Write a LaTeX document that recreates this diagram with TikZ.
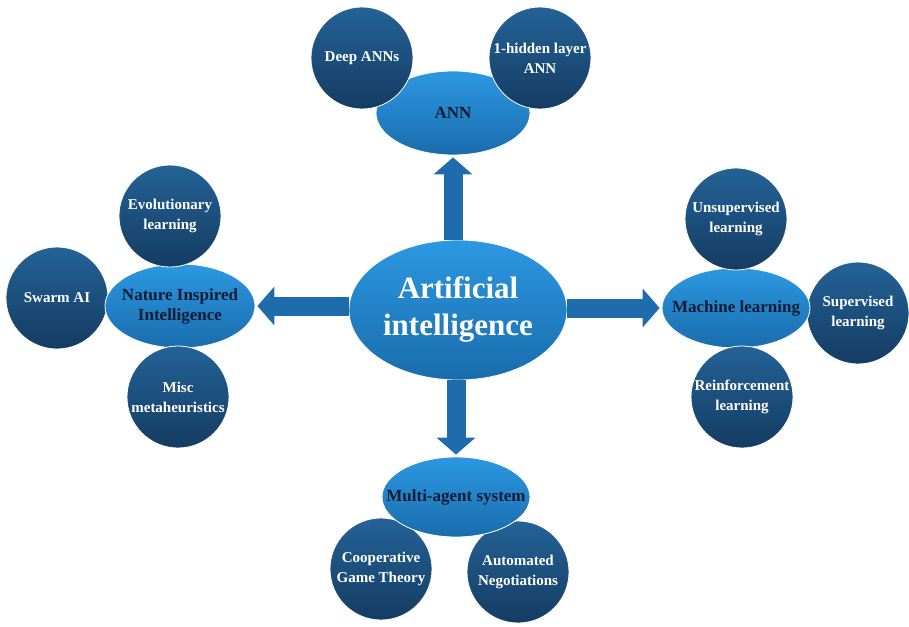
\documentclass[tikz,border=0pt]{standalone}
\usepackage{fontspec}
\setmainfont{Liberation Serif}
\usetikzlibrary{shapes.geometric,arrows.meta}

\definecolor{leaftop}{RGB}{36,98,150}
\definecolor{leafbot}{RGB}{20,60,98}
\definecolor{hubtop}{RGB}{44,152,226}
\definecolor{hubbot}{RGB}{26,108,172}
\definecolor{hubtext}{RGB}{14,28,52}
\definecolor{arrowblue}{RGB}{30,108,172}

\begin{document}
\begin{tikzpicture}[x=1pt,y=-1pt,
    leaf/.style={shape=circle, draw=white, line width=0.8pt, top color=leaftop, bottom color=leafbot,
                 minimum size=102pt, inner sep=0pt, text=white, align=center,
                 font=\fontsize{15}{20}\selectfont\bfseries},
    hub/.style={shape=ellipse, draw=white, line width=0.8pt, top color=hubtop, bottom color=hubbot,
                inner xsep=-20pt, inner ysep=0pt, text=hubtext, align=center,
                font=\fontsize{17}{20}\selectfont\bfseries},
    bigarrow/.style={draw=arrowblue, line width=19pt, shorten >=2pt,
                     -{Triangle[length=17pt,width=38pt]}}]
    \useasboundingbox (0,0) rectangle (909,626);

    % centre
    \node[hub, minimum width=218pt, minimum height=140pt, text=white,
          font=\fontsize{31}{37}\selectfont\bfseries] (ai) at (458,310) {Artificial\\intelligence};

    % ANN branch
    \node[hub, minimum width=154pt, minimum height=84pt] (ann) at (453,113) {ANN};
    \node[leaf] (deep) at (362,58) {Deep ANNs};
    \node[leaf] (hidden) at (540,58) {1-hidden layer\\ANN};

    % nature inspired branch
    \node[leaf] (swarm) at (57,298) {Swarm AI};
    \node[hub, minimum width=150pt, minimum height=84pt] (nature) at (180,306) {Nature Inspired\\Intelligence};
    \node[leaf] (evo) at (170,216) {Evolutionary\\learning};
    \node[leaf] (misc) at (178,397) {Misc\\metaheuristics};

    % machine learning branch
    \node[leaf] (sup) at (858,313) {Supervised\\learning};
    \node[hub, minimum width=148pt, minimum height=80pt] (ml) at (736,308) {Machine learning};
    \node[leaf] (unsup) at (736,219) {Unsupervised\\learning};
    \node[leaf] (reinf) at (742,397) {Reinforcement\\learning};

    % multi-agent branch
    \node[leaf] (coop) at (381,569) {Cooperative\\Game Theory};
    \node[leaf] (nego) at (518,572) {Automated\\Negotiations};
    \node[hub, minimum width=148pt, minimum height=80pt] (mas) at (456,497) {Multi-agent system};

    \draw[bigarrow] (ai.north -| ann) -- (ann);
    \draw[bigarrow] (ai.west |- nature) -- (nature);
    \draw[bigarrow] (ai.east |- ml) -- (ml);
    \draw[bigarrow] (ai.south -| mas) -- (mas);
\end{tikzpicture}
\end{document}
